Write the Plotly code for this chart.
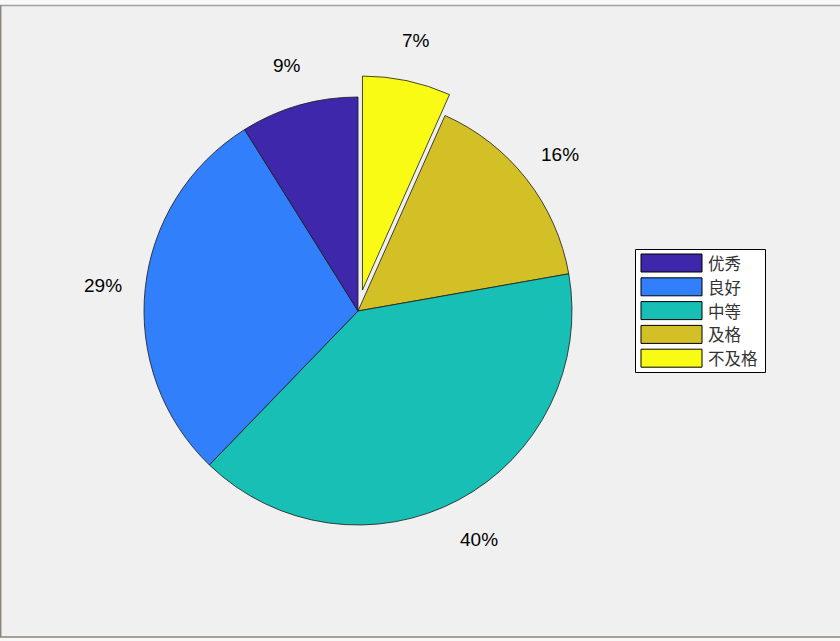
import math
import plotly.graph_objects as go

# ---- data ----
labels = ["优秀", "良好", "中等", "及格", "不及格"]
counts = [4, 13, 18, 7, 3]
explode = [0, 0, 0, 0, 1]
colors = ["#3e27aa", "#317ffb", "#18bfb5", "#d3c027", "#f9fb15"]

W, H = 840, 641
CX, CY, R = 358, 311, 214  # pie centre / radius in pixels
PULL = 0.1


def px(x):
    return x / W


def py(y):
    return 1 - y / H


half = R * (1 + PULL)
fig = go.Figure()
# MATLAB draws slices counterclockwise from 12 o'clock; equivalently
# draw the reversed order clockwise from 12 o'clock.
fig.add_trace(go.Pie(
    labels=labels[::-1],
    values=counts[::-1],
    sort=False,
    direction="clockwise",
    rotation=0,
    pull=[PULL * e for e in explode[::-1]],
    marker=dict(colors=colors[::-1], line=dict(color="#1a1a1a", width=0.8)),
    textinfo="none",
    hoverinfo="label+percent",
    showlegend=False,
    domain=dict(x=[px(CX - half), px(CX + half)], y=[py(CY + half), py(CY - half)]),
))

# percentage labels placed at 1.2 r along each slice's mid-angle
total = sum(counts)
annotations = []
cum = 0
for lab, v, e in zip(labels, counts, explode):
    mid = (cum + v / 2) / total
    cum += v
    th = 2 * math.pi * mid
    d = R * (1.2 + PULL * e)
    x = CX - math.sin(th) * d
    y = CY - math.cos(th) * d + 1.5
    annotations.append(dict(
        x=px(x), y=py(y), xref="paper", yref="paper",
        text=f"{round(100 * v / total)}%", showarrow=False,
        xanchor="center", yanchor="middle",
        font=dict(family="Liberation Sans, Arial", size=19, color="black"),
    ))

# custom legend (MATLAB style wide colour patches)
shapes = []
LX0, LY0, LX1, LY1 = 635.5, 249.5, 765.5, 372.5
shapes.append(dict(type="rect", xref="paper", yref="paper",
                   x0=px(LX0), x1=px(LX1), y0=py(LY1), y1=py(LY0),
                   fillcolor="white", line=dict(color="black", width=1)))
for i, (lab, c) in enumerate(zip(labels, colors)):
    top = 254 + i * 23.8
    shapes.append(dict(type="rect", xref="paper", yref="paper",
                       x0=px(641), x1=px(702), y0=py(top + 18), y1=py(top),
                       fillcolor=c, line=dict(color="black", width=1)))
    annotations.append(dict(
        x=px(706), y=py(top + 9), xref="paper", yref="paper",
        text=lab, showarrow=False, xanchor="left", yanchor="middle",
        font=dict(family="Noto Sans CJK SC", size=16.5, color="#333333"),
    ))

# window frame remnants
shapes.append(dict(type="rect", xref="paper", yref="paper", x0=0, x1=1,
                   y0=py(5), y1=1, fillcolor="#f8f8f8", line=dict(width=0), layer="below"))
shapes.append(dict(type="line", xref="paper", yref="paper", x0=0, x1=1,
                   y0=py(5.5), y1=py(5.5), line=dict(color="#a0a0a0", width=1.5)))
shapes.append(dict(type="rect", xref="paper", yref="paper", x0=0, x1=1,
                   y0=0, y1=py(637), fillcolor="#f8f8f8", line=dict(width=0), layer="below"))
shapes.append(dict(type="line", xref="paper", yref="paper", x0=0, x1=1,
                   y0=py(637), y1=py(637), line=dict(color="#8c8478", width=1.5)))
shapes.append(dict(type="line", xref="paper", yref="paper", x0=px(0.7), x1=px(0.7),
                   y0=py(637), y1=py(5.5), line=dict(color="#8c8478", width=1.5)))

fig.update_layout(
    width=W, height=H,
    margin=dict(l=0, r=0, t=0, b=0),
    paper_bgcolor="#f0f0f0",
    plot_bgcolor="#f0f0f0",
    annotations=annotations,
    shapes=shapes,
)

fig.write_html("out.html", config={"displayModeBar": False},
               post_script="document.body.style.margin='0';")
